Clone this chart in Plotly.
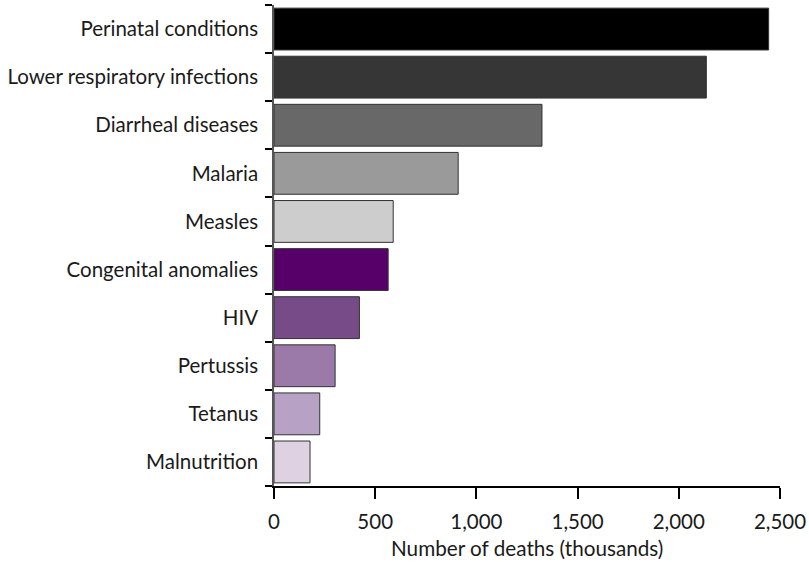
import plotly.graph_objects as go

categories = ["Perinatal conditions", "Lower respiratory infections", "Diarrheal diseases",
              "Malaria", "Measles", "Congenital anomalies", "HIV", "Pertussis",
              "Tetanus", "Malnutrition"]
deaths = [2444, 2136, 1324, 910, 589, 564, 422, 302, 226, 178]
colors = ["#000000", "#363636", "#686868", "#9a9a9a", "#cdcdcd",
          "#58006a", "#774a88", "#9b79a9", "#b7a1c5", "#ddd1e2"]
x_ticks = [0, 500, 1000, 1500, 2000, 2500]
x_tick_labels = ["0", "500", "1,000", "1,500", "2,000", "2,500"]
x_title = "Number of deaths (thousands)"

fig = go.Figure(go.Bar(
    y=categories, x=deaths, orientation="h",
    marker=dict(color=colors, line=dict(color="#333333", width=1)),
    width=0.87,
))

fig.update_layout(
    width=809, height=562,
    margin=dict(l=274, r=29, t=5, b=76),
    plot_bgcolor="white", paper_bgcolor="white",
    font=dict(family="Lato", size=20.5, color="#1a1a1a"),
    showlegend=False,
    bargap=0.13,
)
fig.update_yaxes(
    categoryorder="array", categoryarray=categories[::-1],
    showline=True, linecolor="#555555", linewidth=1.5,
    ticks="outside", ticklen=7, tickcolor="#000000", tickwidth=2,
    tickson="boundaries", showgrid=False, ticklabelstandoff=10,
    automargin=False,
)
fig.update_xaxes(
    range=[0, 2500], tickvals=x_ticks, ticktext=x_tick_labels,
    showline=True, linecolor="#000000", linewidth=1.5,
    ticks="outside", ticklen=11, tickcolor="#000000", tickwidth=2,
    showgrid=False, zeroline=False, ticklabelstandoff=6,
    automargin=False,
)
fig.add_annotation(
    text=x_title, xref="paper", yref="paper", x=0.5, y=0,
    yshift=-62, xanchor="center", yanchor="middle", showarrow=False,
    font=dict(size=20.7),
)

fig.write_html("out.html", config={"displayModeBar": False},
               post_script="document.body.style.margin='0';")
